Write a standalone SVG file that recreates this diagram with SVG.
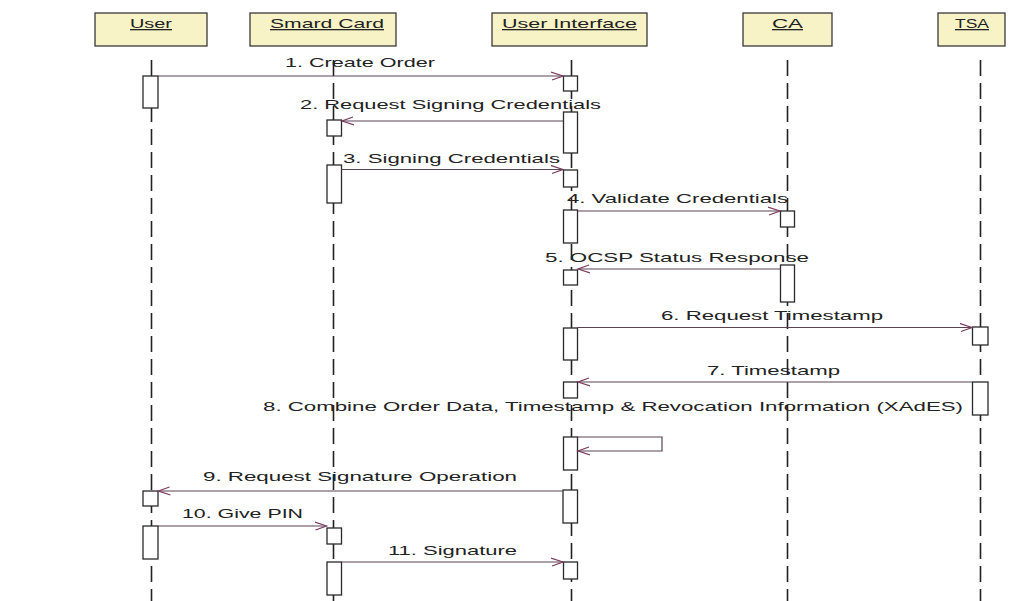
<svg xmlns="http://www.w3.org/2000/svg" width="1014" height="601" viewBox="0 0 1014 601">
<defs>
<marker id="open" markerWidth="14" markerHeight="10" refX="12" refY="5" orient="auto" markerUnits="userSpaceOnUse">
<path d="M0,1 L12,5 L1,9" fill="none" stroke="#7a3a5c" stroke-width="1.2"/>
</marker>
<style>
.hdr{fill:#f7f3c6;stroke:#3a3a3a;stroke-width:1.3}
.htx{font-family:"Liberation Sans",Arial,sans-serif;font-size:13px;fill:#222;text-decoration:underline}
.life{stroke:#222;stroke-width:1.6;stroke-dasharray:16 7;fill:none}
.act{fill:#fff;stroke:#2a2a2a;stroke-width:1.3}
.msg{stroke:#5a4452;stroke-width:1.2;fill:none;marker-end:url(#open)}
.lbl{font-family:"Liberation Sans",Arial,sans-serif;font-size:13px;fill:#222}
</style>
</defs>
<rect width="1014" height="601" fill="#fff"/>

<g id="lifelines">
<line class="life" x1="151.5" y1="60" x2="151.5" y2="601"/>
<line class="life" x1="333.5" y1="60" x2="333.5" y2="601"/>
<line class="life" x1="571.5" y1="60" x2="571.5" y2="601"/>
<line class="life" x1="787.5" y1="60" x2="787.5" y2="601"/>
<line class="life" x1="980.5" y1="60" x2="980.5" y2="601"/>
</g>

<g id="user">
<rect class="hdr" x="95" y="13" width="112" height="33"/>
<text class="htx" x="130" y="28" textLength="42" lengthAdjust="spacingAndGlyphs">User</text>
</g>
<g id="smardcard">
<rect class="hdr" x="250" y="13" width="146" height="33"/>
<text class="htx" x="270" y="28" textLength="114" lengthAdjust="spacingAndGlyphs">Smard Card</text>
</g>
<g id="userinterface">
<rect class="hdr" x="492" y="13" width="155" height="33"/>
<text class="htx" x="502" y="28" textLength="135" lengthAdjust="spacingAndGlyphs">User Interface</text>
</g>
<g id="ca">
<rect class="hdr" x="743" y="13" width="89" height="33"/>
<text class="htx" x="772" y="28" textLength="31" lengthAdjust="spacingAndGlyphs">CA</text>
</g>
<g id="tsa">
<rect class="hdr" x="938" y="13" width="67" height="33"/>
<text class="htx" x="955" y="28" textLength="34" lengthAdjust="spacingAndGlyphs">TSA</text>
</g>

<g id="activations">
<rect class="act" x="143" y="76" width="15" height="32"/>
<rect class="act" x="563.5" y="76" width="14" height="15"/>
<rect class="act" x="563.5" y="112" width="14" height="41"/>
<rect class="act" x="327" y="120" width="14.5" height="16"/>
<rect class="act" x="327" y="165" width="14.5" height="38"/>
<rect class="act" x="563.5" y="170" width="14" height="17"/>
<rect class="act" x="563.5" y="210" width="14" height="33"/>
<rect class="act" x="780.5" y="211" width="14" height="16"/>
<rect class="act" x="780.5" y="265" width="14" height="37"/>
<rect class="act" x="563.5" y="270" width="14" height="15"/>
<rect class="act" x="563.5" y="328" width="14" height="32"/>
<rect class="act" x="972.5" y="327" width="15.5" height="18"/>
<rect class="act" x="972.5" y="382" width="15.5" height="33"/>
<rect class="act" x="563.5" y="382" width="14" height="16"/>
<rect class="act" x="563.5" y="437" width="14" height="33"/>
<rect class="act" x="143" y="491" width="15" height="15"/>
<rect class="act" x="563" y="490" width="14.5" height="33"/>
<rect class="act" x="143" y="526" width="15" height="33"/>
<rect class="act" x="327" y="528" width="14.5" height="16"/>
<rect class="act" x="327" y="562" width="14.5" height="33"/>
<rect class="act" x="563.5" y="562" width="14" height="17"/>
</g>

<g id="connectors">
<line class="msg" x1="158" y1="76" x2="563" y2="76"/>
<line class="msg" x1="563" y1="121" x2="342" y2="121"/>
<line class="msg" x1="341.5" y1="169.5" x2="563" y2="169.5"/>
<line class="msg" x1="577.5" y1="211" x2="780" y2="211"/>
<line class="msg" x1="780.5" y1="269" x2="578" y2="269"/>
<line class="msg" x1="577.5" y1="327.5" x2="972" y2="327.5"/>
<line class="msg" x1="972.5" y1="382" x2="578" y2="382"/>
<polyline class="msg" points="577.5,437 662,437 662,451 578,451"/>
<line class="msg" x1="563" y1="491" x2="158.5" y2="491"/>
<line class="msg" x1="158" y1="526" x2="326.5" y2="526"/>
<line class="msg" x1="341.5" y1="562" x2="563" y2="562"/>
</g>

<g id="labels">
<text class="lbl" x="285" y="67" textLength="150" lengthAdjust="spacingAndGlyphs">1. Create Order</text>
<text class="lbl" x="300" y="109" textLength="301" lengthAdjust="spacingAndGlyphs">2. Request Signing Credentials</text>
<text class="lbl" x="343" y="163" textLength="217" lengthAdjust="spacingAndGlyphs">3. Signing Credentials</text>
<text class="lbl" x="567" y="203" textLength="221" lengthAdjust="spacingAndGlyphs">4. Validate Credentials</text>
<text class="lbl" x="545" y="262" textLength="264" lengthAdjust="spacingAndGlyphs">5. OCSP Status Response</text>
<text class="lbl" x="661" y="320" textLength="222" lengthAdjust="spacingAndGlyphs">6. Request Timestamp</text>
<text class="lbl" x="707" y="375" textLength="133" lengthAdjust="spacingAndGlyphs">7. Timestamp</text>
<text class="lbl" x="263" y="411" textLength="700" lengthAdjust="spacingAndGlyphs">8. Combine Order Data, Timestamp &amp; Revocation Information (XAdES)</text>
<text class="lbl" x="203" y="481" textLength="314" lengthAdjust="spacingAndGlyphs">9. Request Signature Operation</text>
<text class="lbl" x="182" y="518" textLength="121" lengthAdjust="spacingAndGlyphs">10. Give PIN</text>
<text class="lbl" x="388" y="555" textLength="129" lengthAdjust="spacingAndGlyphs">11. Signature</text>
</g>
</svg>
